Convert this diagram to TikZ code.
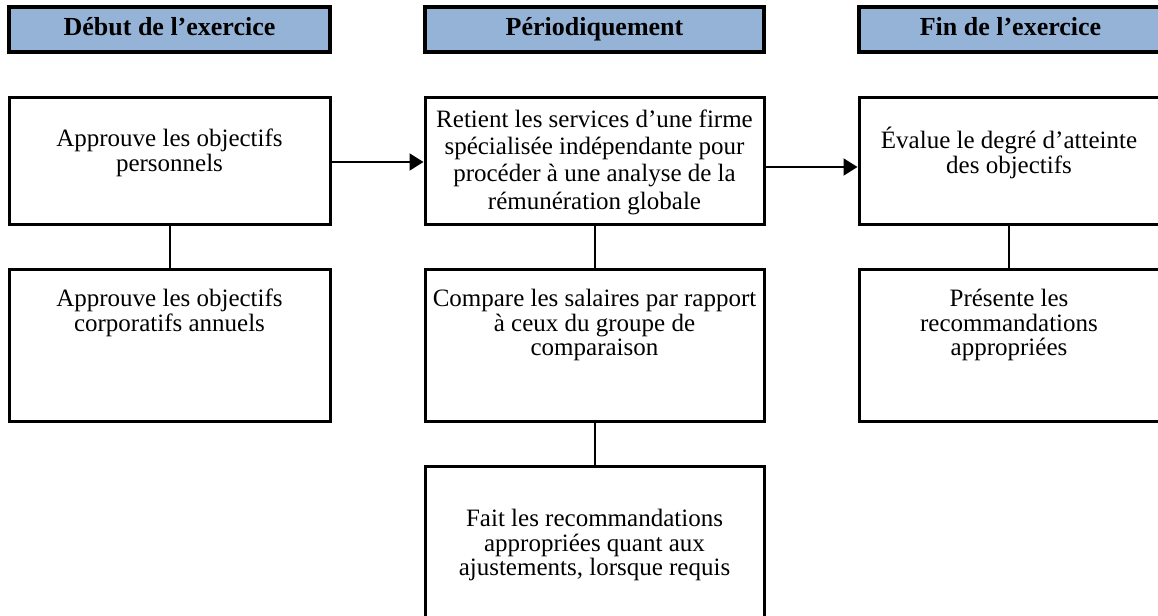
\documentclass[tikz,border=0pt]{standalone}
\usepackage{fontspec}
\setmainfont{Liberation Serif}
\usetikzlibrary{arrows.meta}

\definecolor{bleuentete}{RGB}{149,179,215}

\tikzset{
    entete/.style={draw, line width=1.6pt, fill=bleuentete,
        font=\fontsize{13}{15}\selectfont\bfseries,
        minimum height=22.5pt, inner sep=0pt, text height=9pt, text depth=2.8pt},
    boite/.style={draw, line width=1.5pt, inner sep=0pt},
    texte/.style={align=center, inner sep=0pt},
    lien/.style={line width=1pt},
    fleche/.style={line width=1pt, -{Triangle[length=7pt,width=8.5pt]}}
}

\begin{document}
\begin{tikzpicture}[x=0.5pt, y=-0.5pt, font=\fontsize{12.5}{12.2}\selectfont]
        \clip (0,0) rectangle (1158,616);

        % en-tetes
        \node[entete, minimum width=160.5pt] (hdeb) at (169.5,29.5) {Début de l’exercice};
        \node[entete, minimum width=169.5pt] (hper) at (594.5,29.5) {Périodiquement};
        \node[entete, minimum width=151.5pt] (hfin) at (1010.5,29.5) {Fin de l’exercice};

        % debut de l'exercice
        \node[boite, minimum width=160.5pt, minimum height=63.5pt] (deb1) at (169.5,160.5) {};
        \node[texte] (deb1t) at (169.5,153) {Approuve les objectifs\\personnels};
        \node[boite, minimum width=160.5pt, minimum height=76pt] (deb2) at (169.5,345) {};
        \node[texte] (deb2t) at (169.5,313) {Approuve les objectifs\\corporatifs annuels};

        % periodiquement
        \node[boite, minimum width=169.5pt, minimum height=63.5pt] (per1) at (594.5,160.5) {};
        \node[texte, font=\fontsize{12.5}{13.7}\selectfont] (per1t) at (594.5,162) {Retient les services d’une firme\\spécialisée indépendante pour\\procéder à une analyse de la\\rémunération globale};
        \node[boite, minimum width=169.5pt, minimum height=76pt] (per2) at (594.5,345) {};
        \node[texte] (per2t) at (594.5,325) {Compare les salaires par rapport\\à ceux du groupe de\\comparaison};
        \node[boite, minimum width=169.5pt, minimum height=77pt] (per3) at (594.5,543) {};
        \node[texte] (per3t) at (594.5,545) {Fait les recommandations\\appropriées quant aux\\ajustements, lorsque requis};

        % fin de l'exercice
        \node[boite, minimum width=151.5pt, minimum height=63.5pt] (fin1) at (1010.5,160.5) {};
        \node[texte] (fin1t) at (1009,153) {Évalue le degré d’atteinte\\des objectifs};
        \node[boite, minimum width=151.5pt, minimum height=76pt] (fin2) at (1010.5,345) {};
        \node[texte] (fin2t) at (1009,325) {Présente les\\recommandations\\appropriées};

        \draw[lien] (deb1) -- (deb2);
        \draw[lien] (per1) -- (per2);
        \draw[lien] (per2) -- (per3);
        \draw[lien] (fin1.south -| fin1t) -- (fin2.north -| fin1t);

        \draw[fleche] ([yshift=-0.75pt]deb1.east) -- ([yshift=-0.75pt]per1.west);
        \draw[fleche] ([yshift=-3.25pt]per1.east) -- ([yshift=-3.25pt]fin1.west);
    \end{tikzpicture}
\end{document}
